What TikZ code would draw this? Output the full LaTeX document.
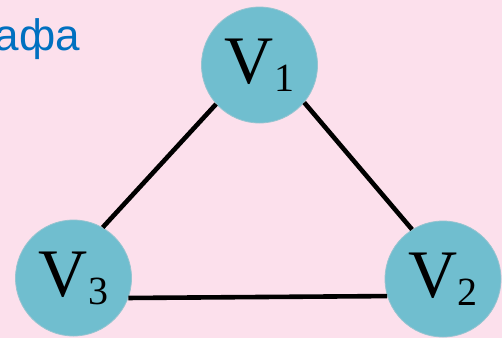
\documentclass[tikz,border=0pt]{standalone}
\usepackage{fontspec}
\setmainfont{Liberation Serif}
\newfontfamily\headfont{Liberation Sans}
\usetikzlibrary{positioning}
\definecolor{slidebg}{RGB}{252, 224, 236}
\definecolor{vertexfill}{RGB}{112, 190, 207}
\definecolor{vertexrim}{RGB}{150, 196, 208}
\definecolor{headblue}{RGB}{0, 112, 192}

\begin{document}
\begin{tikzpicture}[
            x=1pt, y=-1pt,
            vertex/.style={circle, draw=vertexrim, fill=vertexfill, line width=0.8pt,
                           minimum size=116pt, inner sep=0pt,
                           font=\fontsize{68}{68}\selectfont},
            edge/.style={line width=4.6pt, black},
        ]
            \fill[slidebg] (0,0) rectangle (502,338);
            \useasboundingbox (0,0) rectangle (502,338);
            \begin{scope}
                \clip (0,0) rectangle (502,338);
                \node[anchor=base east, inner sep=0pt, text=headblue,
                      font=\headfont\fontsize{44}{44}\selectfont] (title) at (80,50) {афа};

                % vertices of the triangle
                \node[vertex] (v1) at (259.5,65) {V\raisebox{-8pt}{\fontsize{40}{40}\selectfont 1}};
                \node[vertex] (v2) at (443,279) {V\raisebox{-8pt}{\fontsize{40}{40}\selectfont 2}};
                \node[vertex] (v3) at (73.5,278) {V\raisebox{-8pt}{\fontsize{40}{40}\selectfont 3}};
            \end{scope}

            \draw[edge] (v1.222) -- (v3.60);
            \draw[edge] (v1.320) -- (v2.122);
            \draw[edge] (v3.340) -- (v2.197);
        \end{tikzpicture}
\end{document}
